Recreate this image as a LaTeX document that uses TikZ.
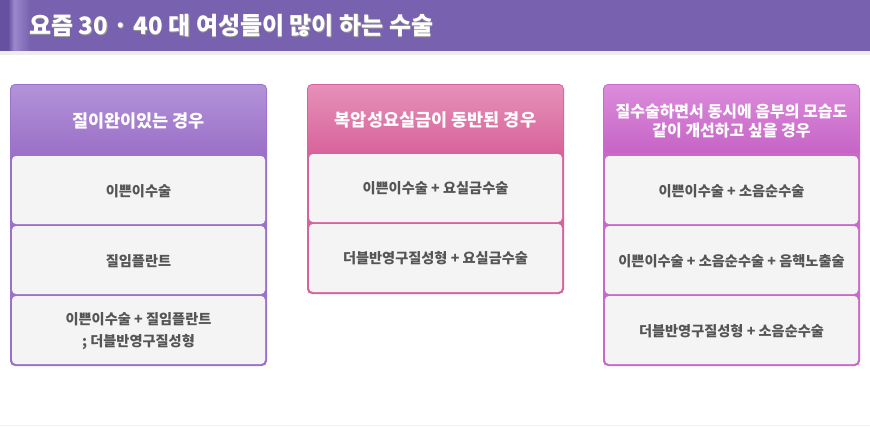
\documentclass[tikz,border=0pt]{standalone}
\usepackage{fontspec}
\setmainfont{Noto Sans CJK KR}
\usetikzlibrary{positioning}
\definecolor{barpurple}{HTML}{7862B0}
\definecolor{bardark}{HTML}{6650A0}
\definecolor{barlight}{HTML}{9A88CC}
\definecolor{cellbg}{HTML}{F4F4F4}
\definecolor{celltext}{HTML}{555555}
\definecolor{bAborder}{HTML}{9B72CA}
\definecolor{bAtop}{HTML}{B293D8}
\definecolor{bAbot}{HTML}{9C70C8}
\definecolor{bBborder}{HTML}{D9629E}
\definecolor{bBtop}{HTML}{E690B8}
\definecolor{bBbot}{HTML}{D8649C}
\definecolor{bCborder}{HTML}{C96ACB}
\definecolor{bCtop}{HTML}{DB8CDB}
\definecolor{bCbot}{HTML}{C664C6}
\tikzset{
  celltxt/.style={text=celltext, font=\fontsize{14.2}{21.5}\selectfont\bfseries, align=center, inner sep=0pt},
  headtxt/.style={text=white, font=\fontsize{17.5}{21}\selectfont\bfseries, align=center, inner sep=0pt},
  titletxt/.style={anchor=west, font=\fontsize{24}{28}\selectfont\bfseries, inner sep=0pt},
}
\begin{document}
\begin{tikzpicture}[x=1pt,y=-1pt]
\useasboundingbox (0,0) rectangle (870,426);
\fill[white] (0,0) rectangle (870,426);
% title bar
\fill[barpurple] (0,0) rectangle (870,51);
\fill[bardark] (0,0) rectangle (8,51);
\shade[left color=bardark, right color=barlight] (8,0) rectangle (14,51);
\shade[left color=barlight, right color=barpurple] (14,0) rectangle (30,51);
\fill[black!7] (0,51) rectangle (870,55);
\fill[black!5] (0,425) rectangle (870,426);
\node[titletxt, text=black!40] at (29.6,26.6) {요즘 30 · 40 대 여성들이 많이 하는 수술};
\node[titletxt, text=white] (title) at (29,26) {요즘 30 · 40 대 여성들이 많이 하는 수술};

% column 1
\fill[bAborder, rounded corners=5pt] (10,84) rectangle (267,366);
\shade[top color=bAtop, bottom color=bAbot, rounded corners=4pt] (11,85) rectangle (266,153);
\fill[cellbg, rounded corners=4pt] (12,156) rectangle (265,224);
\fill[cellbg, rounded corners=4pt] (12,226) rectangle (265,294);
\fill[cellbg, rounded corners=4pt] (12,296) rectangle (265,364);
\node[headtxt] (h1) at (138.5,121) {질이완이있는 경우};
\node[celltxt] (a1) at (138.5,191) {이쁜이수술};
\node[celltxt] (a2) at (138.5,261) {질임플란트};
\node[celltxt] (a3) at (138.5,331) {이쁜이수술 + 질임플란트\\; 더블반영구질성형};

% column 2
\fill[bBborder, rounded corners=5pt] (307,84) rectangle (564,294);
\shade[top color=bBtop, bottom color=bBbot, rounded corners=4pt] (308,85) rectangle (563,152);
\fill[cellbg, rounded corners=4pt] (309,154) rectangle (562,222);
\fill[cellbg, rounded corners=4pt] (309,224) rectangle (562,292);
\node[headtxt] (h2) at (435.5,120) {복압성요실금이 동반된 경우};
\node[celltxt] (b1) at (435.5,188) {이쁜이수술 + 요실금수술};
\node[celltxt] (b2) at (435.5,258) {더블반영구질성형 + 요실금수술};

% column 3
\fill[bCborder, rounded corners=5pt] (603,84) rectangle (860,366);
\shade[top color=bCtop, bottom color=bCbot, rounded corners=4pt] (604,85) rectangle (859,153);
\fill[cellbg, rounded corners=4pt] (605,156) rectangle (858,224);
\fill[cellbg, rounded corners=4pt] (605,226) rectangle (858,294);
\fill[cellbg, rounded corners=4pt] (605,296) rectangle (858,364);
\node[headtxt, font=\fontsize{16}{18.5}\selectfont\bfseries] (h3) at (731.5,121) {질수술하면서 동시에 음부의 모습도\\같이 개선하고 싶을 경우};
\node[celltxt] (c1) at (731.5,191) {이쁜이수술 + 소음순수술};
\node[celltxt] (c2) at (731.5,261) {이쁜이수술 + 소음순수술 + 음핵노출술};
\node[celltxt] (c3) at (731.5,331) {더블반영구질성형 + 소음순수술};
\end{tikzpicture}
\end{document}
